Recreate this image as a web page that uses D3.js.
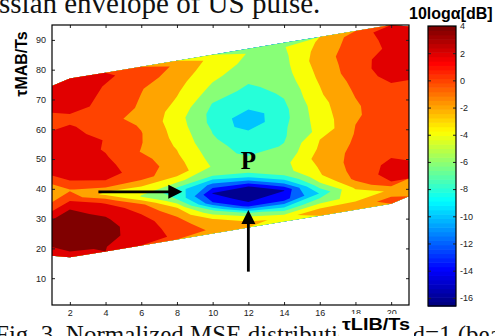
<!DOCTYPE html>
<html>
<head>
<meta charset="utf-8">
<script src="https://cdn.jsdelivr.net/npm/d3@7/dist/d3.min.js"></script>
<style>
  body { margin: 0; background: #fff; }
  svg { display: block; }
</style>
</head>
<body>
<div id="chart"></div>
<script>
// grid the MSE map was sampled on: tauLIB/Ts cell centres and (tauMAB - tauLIB)/Ts row centres
const libCentres = [2, 4, 6, 8, 10, 12, 14, 16, 18, 20];
const mabOffsets = [16.5, 19.5, 22.5, 25.5, 28.5, 31.5, 34.5, 37.5, 40.5, 43.5,
                    46.5, 49.5, 52.5, 55.5, 58.5, 61.5, 64.5, 67.5, 70.5, 73.5];

// 10log(alpha) [dB], one list per tauLIB column, lowest row first
const alphaLib2  = [3.9, 4.6, 5.1, 5.0, 4.6, 3.9, 1.5, -0.2, 1.9, 2.8, 3.2, 3.3, 3.1, 2.6, 2.3, 1.4, 2.5, 2.8, 3.0, 2.9];
const alphaLib4  = [4.05, 4.5, 4.6, 4.3, 3.5, 1.7, -2.8, 1.5, 2.6, 2.5, 2.2, 1.8, 1.9, 1.3, 0.6, 1.4, 1.6, 1.7, 1.9, 2.3];
const alphaLib6  = [2.8, 3.3, 3.1, 2.0, 0.7, -4.2, -2.3, 0.5, 1.3, 0.8, -0.1, 0.1, 0.1, -0.2, -0.6, -0.3, -0.1, 0.1, 0.8, 1.2];
const alphaLib8  = [1.7, 1.0, 0.1, -1.8, -6.0, -7.2, -3.5, -0.9, -1.25, -1.8, -2.2, -2.6, -2.9, -3.2, -2.7, -2.2, -1.8, -1.4, -0.8, -0.3];
const alphaLib10 = [-0.4, -1.5, -5.4, -12.0, -14.1, -10.5, -5.8, -4.2, -4.75, -5.2, -5.8, -6.1, -6.6, -6.6, -6.1, -5.1, -4.3, -3.6, -3.1, -2.6];
const alphaLib12 = [-1.3, -5.0, -13.2, -15.5, -14.6, -8.5, -4.5, -5.3, -6.6, -7.1, -7.3, -9.2, -9.2, -7.5, -7.0, -6.4, -5.7, -5.0, -4.4, -4.1];
const alphaLib14 = [-2.6, -7.6, -12.8, -14.1, -8.7, -4.8, -4.6, -5.4, -5.9, -6.2, -6.3, -6.6, -6.5, -6.1, -5.7, -5.2, -4.8, -4.6, -4.4, -4.1];
const alphaLib16 = [-1.0, -4.5, -7.9, -4.5, -2.2, -1.8, -1.2, -1.7, -2.0, -3.4, -3.2, -2.9, -2.7, -2.25, -2.0, -1.6, -1.3, -0.9, -1.2, -1.7];
const alphaLib18 = [-0.9, -3.6, -1.6, 0.6, 0.75, 0.9, 0.5, 0.3, 0.1, 0.0, -0.2, -0.2, 0.0, 0.3, 0.65, 1.1, 1.15, 1.1, 0.9, 0.8];
const alphaLib20 = [0.6, -1.6, 2.0, 2.8, 2.5, 1.7, 1.3, 1.0, 0.9, 0.8, 0.9, 1.1, 1.5, 2.0, 2.8, 3.1, 3.0, 2.3, 2.6, 3.2];

const levels = [-16, -14, -12, -10, -8, -6, -4, -2, 0, 2, 4];
const colorTicks = [-16, -14, -12, -10, -8, -6, -4, -2, 0, 2, 4];
const colorRange = [-16.6, 4];
const xTicks = [2, 4, 6, 8, 10, 12, 14, 16, 18, 20];
const yTicks = [10, 20, 30, 40, 50, 60, 70, 80, 90];

// annotations, in axis units
const arrowLeft = [[3.6, 39], [8.3, 39]];
const arrowUp = [[12, 12.2], [12, 32.9]];
const markP = [12, 49.6];

const W = 495, H = 336;
const plot = { left: 52, right: 409, top: 25, bottom: 305 };
const cb = { left: 428, right: 456, top: 26, bottom: 306 };

const svg = d3.select('#chart').append('svg').attr('width', W).attr('height', H);

const x = d3.scaleLinear().domain([1, 21]).range([plot.left, plot.right]);
const y = d3.scaleLinear().domain([1, 95]).range([plot.bottom, plot.top]);

// MATLAB style jet, 64 entries
function jet(t) {
  const c = v => Math.max(0, Math.min(1, v));
  return d3.rgb(255 * c(1.5 - Math.abs(4 * t - 3)),
                255 * c(1.5 - Math.abs(4 * t - 2)),
                255 * c(1.5 - Math.abs(4 * t - 1))).formatHex();
}
const jet64 = d3.range(64).map(i => jet(i / 63));
const colorIndex = d3.scaleQuantize().domain(colorRange).range(d3.range(64));
const fillFor = v => jet64[colorIndex(v)];

// captions of the page around the figure
const serif = '"Liberation Serif", "Times New Roman", serif';
const sans = '"Liberation Sans", Arial, sans-serif';
svg.append('text').attr('x', -1).attr('y', 12.5)
  .attr('font-family', serif).attr('font-size', 29)
  .attr('fill', '#111').text('ssian envelope of US pulse.');
svg.append('text').attr('x', -5).attr('y', 342.5)
  .attr('font-family', serif).attr('font-size', 25)
  .attr('fill', '#111').text('Fig. 3. Normalized MSE distribution of \u0394d=1 (beam');

// filled contours on the sheared grid
const n = libCentres.length, m = mabOffsets.length;
const columns = [alphaLib2, alphaLib4, alphaLib6, alphaLib8, alphaLib10,
                 alphaLib12, alphaLib14, alphaLib16, alphaLib18, alphaLib20];
const grid = new Array(n * m);
columns.forEach((col, i) => col.forEach((v, j) => { grid[j * n + i] = v; }));

const bands = d3.contours().size([n, m]).thresholds(levels)(grid);

const uToLib = d3.scaleLinear().domain([0.5, n - 0.5]).range([libCentres[0], libCentres[n - 1]]);
const vToOff = d3.scaleLinear().domain([0.5, m - 0.5]).range([mabOffsets[0], mabOffsets[m - 1]]);
const proj = d3.geoTransform({
  point(u, v) {
    const lib = uToLib(u);
    this.stream.point(x(lib), y(lib + vToOff(v)));
  }
});
const path = d3.geoPath(proj);

svg.append('defs').append('clipPath').attr('id', 'plotClip').append('rect')
  .attr('x', plot.left).attr('y', plot.top)
  .attr('width', plot.right - plot.left).attr('height', plot.bottom - plot.top);

svg.append('g').attr('clip-path', 'url(#plotClip)')
  .selectAll('path').data(bands).join('path')
  .attr('d', path)
  .attr('fill', d => fillFor(d.value));

// axes, ticks pointing in
const fmt = d => String(d);
const styleAxis = s => {
  s.select('.domain').remove();
  s.attr('font-family', sans).attr('font-size', 9).attr('color', '#222');
};
svg.append('g').attr('transform', `translate(0,${plot.bottom})`)
  .call(d3.axisBottom(x).tickValues(xTicks).tickSize(-3).tickPadding(5).tickFormat(fmt)).call(styleAxis);
svg.append('g').attr('transform', `translate(0,${plot.top})`)
  .call(d3.axisTop(x).tickValues(xTicks).tickSize(-3).tickFormat('')).call(styleAxis);
svg.append('g').attr('transform', `translate(${plot.left},0)`)
  .call(d3.axisLeft(y).tickValues(yTicks).tickSize(-3).tickPadding(6).tickFormat(fmt)).call(styleAxis);
svg.append('g').attr('transform', `translate(${plot.right},0)`)
  .call(d3.axisRight(y).tickValues(yTicks).tickSize(-3).tickFormat('')).call(styleAxis);

svg.append('rect')
  .attr('x', plot.left).attr('y', plot.top)
  .attr('width', plot.right - plot.left).attr('height', plot.bottom - plot.top)
  .attr('fill', 'none').attr('stroke', '#000').attr('stroke-width', 1.2);

// annotations
const ann = svg.append('g');
function arrow(from, to) {
  const x0 = x(from[0]), y0 = y(from[1]), x1 = x(to[0]), y1 = y(to[1]);
  const len = Math.hypot(x1 - x0, y1 - y0);
  const ux = (x1 - x0) / len, uy = (y1 - y0) / len;
  const head = 14, half = 7;
  const bx = x1 - ux * head, by = y1 - uy * head;
  ann.append('line')
    .attr('x1', x0).attr('y1', y0).attr('x2', bx + ux).attr('y2', by + uy)
    .attr('stroke', '#000').attr('stroke-width', 2.8);
  ann.append('path')
    .attr('d', `M${x1},${y1}L${bx - uy * half},${by + ux * half}L${bx + uy * half},${by - ux * half}Z`)
    .attr('fill', '#000');
}
arrow(arrowLeft[0], arrowLeft[1]);
arrow(arrowUp[0], arrowUp[1]);

ann.append('text')
  .attr('x', x(markP[0])).attr('y', y(markP[1]) + 8.5)
  .attr('text-anchor', 'middle')
  .attr('font-family', serif)
  .attr('font-weight', 'bold').attr('font-size', 25)
  .text('P');

// axis titles (the figure's white ground hides the caption under the x title)
svg.append('rect').attr('x', 339).attr('y', 314).attr('width', 75).attr('height', 22).attr('fill', '#fff');
svg.append('text')
  .attr('x', plot.right + 1).attr('y', 329.5)
  .attr('text-anchor', 'end')
  .attr('font-family', sans)
  .attr('font-weight', 'bold').attr('font-size', 17)
  .attr('textLength', 68).attr('lengthAdjust', 'spacingAndGlyphs')
  .text('\u03c4LIB/Ts');
svg.append('text')
  .attr('transform', 'translate(27,64) rotate(-90)')
  .attr('text-anchor', 'middle')
  .attr('font-family', sans)
  .attr('font-weight', 'bold').attr('font-size', 16)
  .text('\u03c4MAB/Ts');

// colour bar
const c = d3.scaleLinear().domain(colorRange).range([cb.bottom, cb.top]);
const stepSize = (colorRange[1] - colorRange[0]) / 64;
svg.append('g').selectAll('rect').data(d3.range(64)).join('rect')
  .attr('x', cb.left).attr('width', cb.right - cb.left)
  .attr('y', i => c(colorRange[0] + (i + 1) * stepSize))
  .attr('height', i => c(colorRange[0] + i * stepSize) - c(colorRange[0] + (i + 1) * stepSize) + 0.6)
  .attr('fill', i => jet64[i]);

svg.append('g').attr('transform', `translate(${cb.right},0)`)
  .call(d3.axisRight(c).tickValues(colorTicks).tickSize(-3).tickPadding(4).tickFormat(fmt)).call(styleAxis);
svg.append('g').attr('transform', `translate(${cb.left},0)`)
  .call(d3.axisLeft(c).tickValues(colorTicks).tickSize(-3).tickFormat('')).call(styleAxis);
svg.append('rect')
  .attr('x', cb.left).attr('y', cb.top)
  .attr('width', cb.right - cb.left).attr('height', cb.bottom - cb.top)
  .attr('fill', 'none').attr('stroke', '#000').attr('stroke-width', 1.2);

svg.append('text')
  .attr('x', 409).attr('y', 19)
  .attr('font-family', sans)
  .attr('font-weight', 'bold').attr('font-size', 16)
  .text('10log\u03b1[dB]');
</script>
</body>
</html>
